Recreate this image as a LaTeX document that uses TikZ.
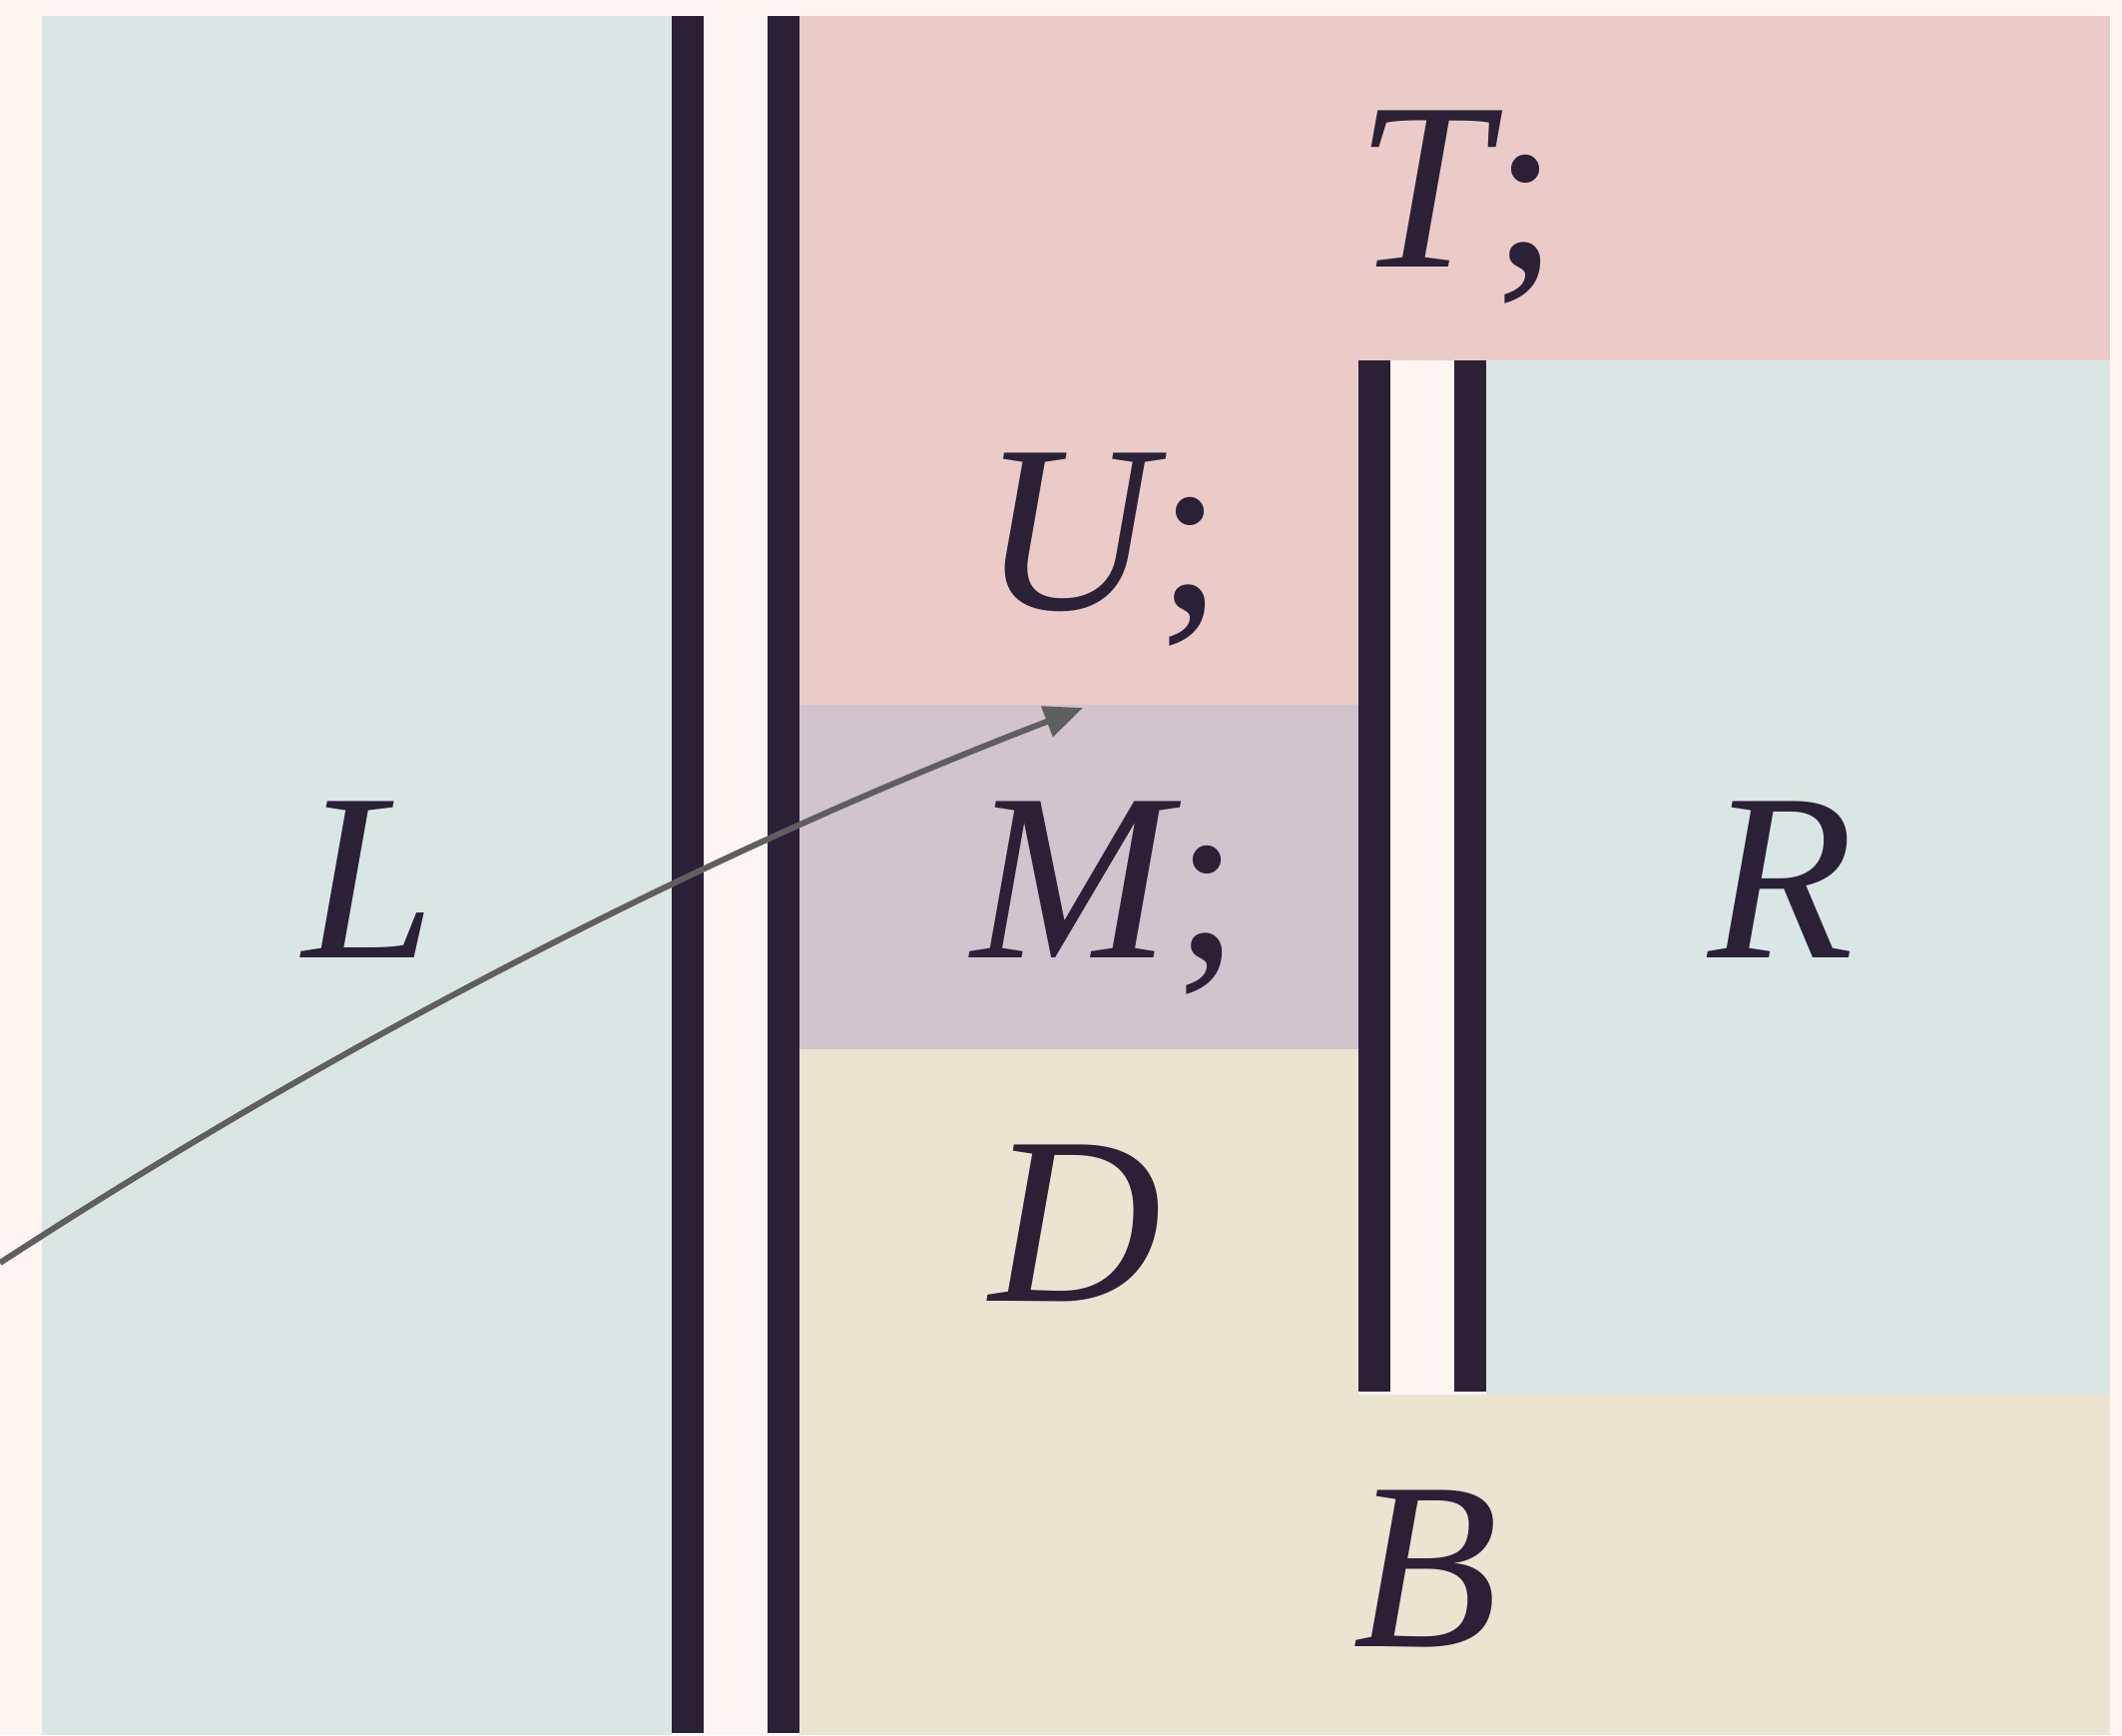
\documentclass[tikz,border=0pt]{standalone}
\usepackage{fontspec}
\setmainfont{Liberation Serif}
\usetikzlibrary{arrows.meta}
\definecolor{bgc}{HTML}{FFF5F2}
\definecolor{tealc}{HTML}{DAE6E3}
\definecolor{pinkc}{HTML}{EBCBC8}
\definecolor{mauvec}{HTML}{D0C4CD}
\definecolor{beigec}{HTML}{EAE4D0}
\definecolor{barc}{HTML}{2A2137}
\definecolor{arrowc}{HTML}{5F5F5F}
\tikzset{
  panel/.style={draw=none},
  wall/.style={fill=barc,draw=none},
  lbl/.style={anchor=base,text=barc,inner sep=0pt,font=\fontsize{68}{68}\selectfont\itshape},
  flow/.style={draw=arrowc,line width=1.7pt,-{Triangle[length=11pt,width=9pt]}}
}
\newcommand{\semi}{{\upshape\kern1pt;}}
\begin{document}
\begin{tikzpicture}[x=0.01cm,y=-0.01cm]
\fill[bgc] (0,0) rectangle (2126,1738);
\useasboundingbox (0,0) rectangle (2126,1738);
% panels
\fill[tealc] (42,16) rectangle (673,1738);
\fill[pinkc] (801,16) rectangle (2114,361);
\fill[pinkc] (801,361) rectangle (1361,706);
\fill[mauvec] (801,706) rectangle (1361,1051);
\fill[beigec] (801,1051) rectangle (1361,1397);
\fill[tealc] (1489,361) rectangle (2114,1397);
\fill[beigec] (801,1397) rectangle (2114,1738);
% walls
\fill[wall] (673,16) rectangle (705,1736);
\fill[wall] (769,16) rectangle (801,1736);
\fill[wall] (1361,361) rectangle (1393,1394);
\fill[wall] (1457,361) rectangle (1489,1394);
% labels
\node[lbl] (L) at (370,959) {L};
\node[lbl] (T) at (1460,267) {T\semi};
\node[lbl] (U) at (1105,610) {U\semi};
\node[lbl] (M) at (1108,959) {M\semi};
\node[lbl] (D) at (1078,1303) {D};
\node[lbl] (R) at (1785,959) {R};
\node[lbl] (B) at (1429,1649) {B};
% arrow
\coordinate (src) at (0,1265);
\coordinate (dst) at (1085,709);
\draw[flow] (src) .. controls (360,1031) and (725,847) .. (dst);
\end{tikzpicture}
\end{document}
